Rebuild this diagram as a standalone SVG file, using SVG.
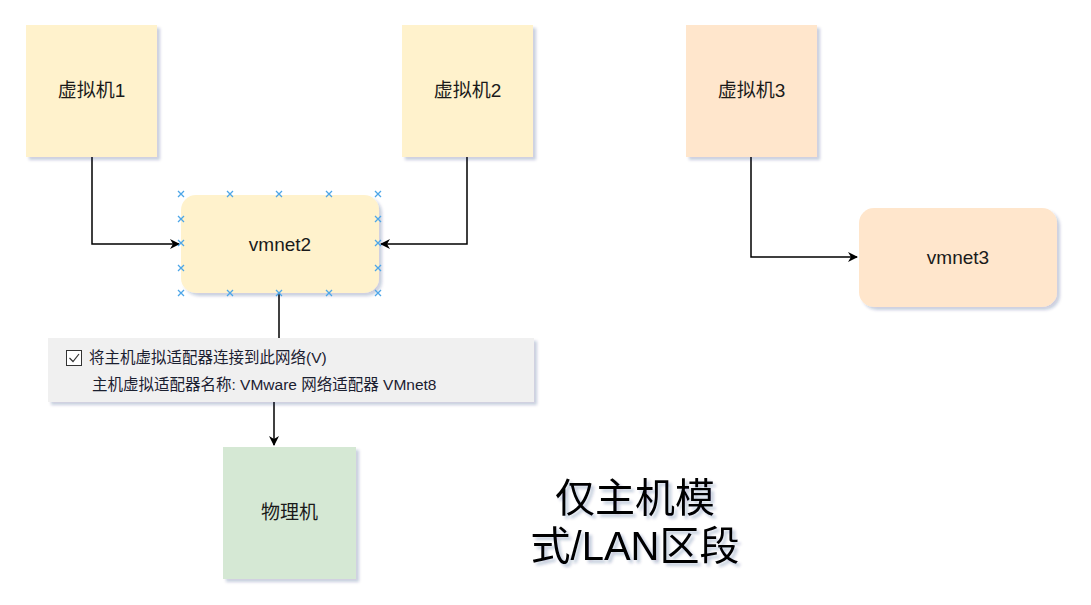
<svg xmlns="http://www.w3.org/2000/svg" width="1091" height="605" viewBox="0 0 1091 605">
<defs>
<filter id="sh" x="-20%" y="-20%" width="150%" height="150%">
<feGaussianBlur in="SourceAlpha" stdDeviation="1.5"/>
<feOffset dx="3" dy="3" result="b"/>
<feFlood flood-color="#1a2a6b" flood-opacity="0.22"/>
<feComposite in2="b" operator="in"/>
<feMerge><feMergeNode/><feMergeNode in="SourceGraphic"/></feMerge>
</filter>
<filter id="tsh" x="-20%" y="-20%" width="150%" height="150%">
<feGaussianBlur in="SourceAlpha" stdDeviation="1.5"/>
<feOffset dx="3" dy="3" result="b"/>
<feFlood flood-color="#1a2a6b" flood-opacity="0.25"/>
<feComposite in2="b" operator="in"/>
<feMerge><feMergeNode/><feMergeNode in="SourceGraphic"/></feMerge>
</filter>
<marker id="arr" viewBox="0 0 10 10" refX="9" refY="5" markerWidth="10" markerHeight="10" markerUnits="userSpaceOnUse" orient="auto">
<path d="M0,0 L10,5 L0,10 L3,5 Z" fill="#000"/>
</marker>
<g id="xm"><path d="M-3,-3 L3,3 M-3,3 L3,-3" stroke="#4da6e8" stroke-width="1.3" fill="none"/></g>
</defs>
<style>
.t{font-family:"Liberation Sans","Noto Sans CJK SC",sans-serif;font-size:19px;fill:#1a1a1a;text-anchor:middle;dominant-baseline:central}
.p{font-family:"Liberation Sans","Noto Sans CJK SC",sans-serif;font-size:15.5px;fill:#1b2030}
.y{fill:#fff2cc}
.o{fill:#ffe6cc}
.c{stroke:#000;stroke-width:1.5;fill:none}
</style>
<rect width="1091" height="605" fill="#fff"/>
<g id="connectors">
<path class="c" d="M92,157 V244 H179" marker-end="url(#arr)"/>
<path class="c" d="M467,157 V244 H381" marker-end="url(#arr)"/>
<path class="c" d="M751,157 V257 H857" marker-end="url(#arr)"/>
<path class="c" d="M279,293 V338"/>
<path class="c" d="M274,402 V445" marker-end="url(#arr)"/>
</g>
<g id="vm1"><rect class="y" x="26" y="25" width="131" height="132" filter="url(#sh)"/><text class="t" x="91.5" y="90">虚拟机1</text></g>
<g id="vm2"><rect class="y" x="402" y="25" width="131" height="132" filter="url(#sh)"/><text class="t" x="467.5" y="90">虚拟机2</text></g>
<g id="vm3"><rect class="o" x="686" y="25" width="131" height="132" filter="url(#sh)"/><text class="t" x="751.5" y="90">虚拟机3</text></g>
<g id="vmnet2"><rect class="y" x="181" y="195" width="198" height="98" rx="15" filter="url(#sh)"/><text class="t" x="280" y="244">vmnet2</text>
<use href="#xm" x="181" y="194"/><use href="#xm" x="230" y="194"/><use href="#xm" x="279" y="194"/><use href="#xm" x="329" y="194"/><use href="#xm" x="378" y="194"/>
<use href="#xm" x="181" y="219"/><use href="#xm" x="378" y="219"/>
<use href="#xm" x="181" y="243"/><use href="#xm" x="378" y="243"/>
<use href="#xm" x="181" y="268"/><use href="#xm" x="378" y="268"/>
<use href="#xm" x="181" y="293"/><use href="#xm" x="230" y="293"/><use href="#xm" x="279" y="293"/><use href="#xm" x="329" y="293"/><use href="#xm" x="378" y="293"/>
</g>
<g id="vmnet3"><rect class="o" x="859" y="208" width="198" height="99" rx="15" filter="url(#sh)"/><text class="t" x="958" y="257">vmnet3</text></g>
<g id="panel">
<rect x="48" y="338" width="486" height="64" fill="#f0f0f0" filter="url(#sh)"/>
<rect x="66.5" y="350.5" width="15" height="15" fill="#fff" stroke="#333" stroke-width="1"/>
<path d="M69.5,358 L73,361.5 L79,354" stroke="#333" stroke-width="1.2" fill="none"/>
<text class="p" x="89" y="363">将主机虚拟适配器连接到此网络(V)</text>
<text class="p" x="92" y="390">主机虚拟适配器名称: VMware 网络适配器 VMnet8</text>
</g>
<g id="host"><rect x="223" y="447" width="133" height="132" fill="#d5e8d4" filter="url(#sh)"/><text class="t" x="289.5" y="512">物理机</text></g>
<g id="title" filter="url(#tsh)">
<text x="635" y="512" font-family="Liberation Sans,'Noto Sans CJK SC',sans-serif" font-size="40" text-anchor="middle" fill="#000">仅主机模</text>
<text x="635" y="560" font-family="Liberation Sans,'Noto Sans CJK SC',sans-serif" font-size="40" text-anchor="middle" fill="#000">式/LAN区段</text>
</g>
</svg>
